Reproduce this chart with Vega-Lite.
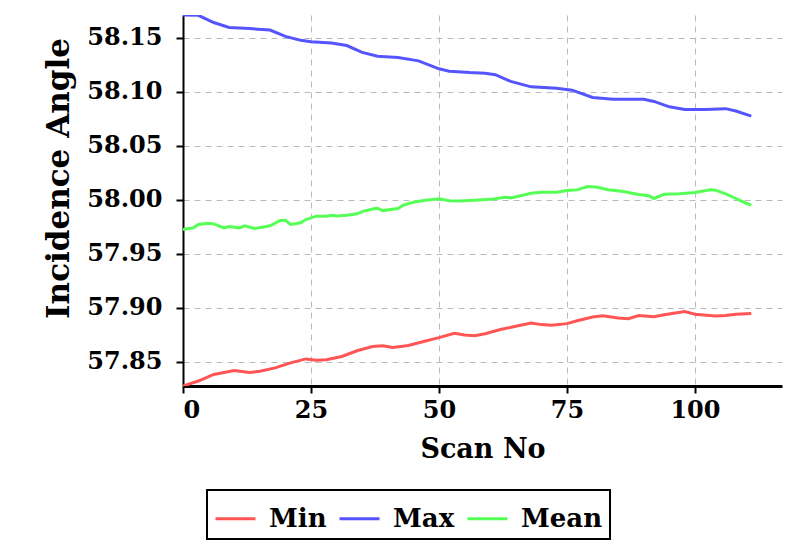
{
  "$schema": "https://vega.github.io/schema/vega-lite/v6.json",
  "width": 599,
  "height": 371,
  "autosize": {"type": "none"},
  "padding": {"left": 183, "top": 15, "right": 30, "bottom": 163},
  "background": "white",
  "datasets": {
    "Min": [
      {"scan":0,"angle":57.8274},{"scan":3,"angle":57.8320},{"scan":6,"angle":57.8381},{"scan":10,"angle":57.8418},
      {"scan":13,"angle":57.8400},{"scan":15,"angle":57.8411},{"scan":18,"angle":57.8442},{"scan":21,"angle":57.8488},
      {"scan":24,"angle":57.8525},{"scan":26,"angle":57.8512},{"scan":28,"angle":57.8518},{"scan":31,"angle":57.8548},
      {"scan":34,"angle":57.8601},{"scan":37,"angle":57.8640},{"scan":39,"angle":57.8646},{"scan":41,"angle":57.8631},
      {"scan":44,"angle":57.8649},{"scan":47,"angle":57.8686},{"scan":50,"angle":57.8722},{"scan":53,"angle":57.8762},
      {"scan":55,"angle":57.8747},{"scan":57,"angle":57.8740},{"scan":59,"angle":57.8758},{"scan":62,"angle":57.8797},
      {"scan":65,"angle":57.8827},{"scan":68,"angle":57.8858},{"scan":70,"angle":57.8843},{"scan":72,"angle":57.8837},
      {"scan":75,"angle":57.8852},{"scan":77,"angle":57.8879},{"scan":80,"angle":57.8913},{"scan":82,"angle":57.8925},
      {"scan":85,"angle":57.8904},{"scan":87,"angle":57.8898},{"scan":89,"angle":57.8928},{"scan":92,"angle":57.8916},
      {"scan":94,"angle":57.8934},{"scan":98,"angle":57.8964},{"scan":100,"angle":57.8940},{"scan":104,"angle":57.8922},
      {"scan":106,"angle":57.8928},{"scan":108,"angle":57.8940},{"scan":111,"angle":57.8946}
    ],
    "Max": [
      {"scan":0,"angle":58.1713},{"scan":3,"angle":58.1710},{"scan":6,"angle":58.1643},{"scan":9,"angle":58.1597},
      {"scan":13,"angle":58.1587},{"scan":17,"angle":58.1574},{"scan":20,"angle":58.1515},{"scan":23,"angle":58.1478},
      {"scan":25,"angle":58.1465},{"scan":29,"angle":58.1453},{"scan":32,"angle":58.1430},{"scan":35,"angle":58.1366},
      {"scan":38,"angle":58.1330},{"scan":42,"angle":58.1318},{"scan":46,"angle":58.1288},{"scan":50,"angle":58.1214},
      {"scan":52,"angle":58.1191},{"scan":56,"angle":58.1179},{"scan":59,"angle":58.1174},{"scan":61,"angle":58.1160},
      {"scan":64,"angle":58.1098},{"scan":68,"angle":58.1047},{"scan":73,"angle":58.1033},{"scan":76,"angle":58.1016},
      {"scan":80,"angle":58.0948},{"scan":84,"angle":58.0931},{"scan":90,"angle":58.0931},{"scan":92,"angle":58.0912},
      {"scan":95,"angle":58.0862},{"scan":98,"angle":58.0838},{"scan":102,"angle":58.0838},{"scan":106,"angle":58.0845},
      {"scan":108,"angle":58.0823},{"scan":111,"angle":58.0776}
    ],
    "Mean": [
      {"scan":0,"angle":57.9724},{"scan":2,"angle":57.9740},{"scan":3,"angle":57.9771},{"scan":5,"angle":57.9783},
      {"scan":6,"angle":57.9777},{"scan":8,"angle":57.9740},{"scan":9,"angle":57.9752},{"scan":11,"angle":57.9740},
      {"scan":12,"angle":57.9759},{"scan":14,"angle":57.9734},{"scan":16,"angle":57.9750},{"scan":17,"angle":57.9759},
      {"scan":19,"angle":57.9808},{"scan":20,"angle":57.9811},{"scan":21,"angle":57.9771},{"scan":23,"angle":57.9787},
      {"scan":24,"angle":57.9817},{"scan":26,"angle":57.9848},{"scan":28,"angle":57.9848},{"scan":29,"angle":57.9857},
      {"scan":30,"angle":57.9851},{"scan":32,"angle":57.9857},{"scan":34,"angle":57.9870},{"scan":35,"angle":57.9890},
      {"scan":37,"angle":57.9915},{"scan":38,"angle":57.9922},{"scan":39,"angle":57.9900},{"scan":42,"angle":57.9919},
      {"scan":43,"angle":57.9950},{"scan":45,"angle":57.9978},{"scan":47,"angle":57.9994},{"scan":50,"angle":58.0009},
      {"scan":52,"angle":57.9991},{"scan":54,"angle":57.9988},{"scan":57,"angle":57.9996},{"scan":60,"angle":58.0004},
      {"scan":63,"angle":58.0024},{"scan":64,"angle":58.0018},{"scan":68,"angle":58.0061},{"scan":70,"angle":58.0071},
      {"scan":73,"angle":58.0071},{"scan":75,"angle":58.0087},{"scan":77,"angle":58.0092},{"scan":79,"angle":58.0123},
      {"scan":81,"angle":58.0117},{"scan":83,"angle":58.0094},{"scan":86,"angle":58.0077},{"scan":89,"angle":58.0049},
      {"scan":91,"angle":58.0037},{"scan":92,"angle":58.0012},{"scan":94,"angle":58.0052},{"scan":97,"angle":58.0055},
      {"scan":100,"angle":58.0068},{"scan":103,"angle":58.0092},{"scan":104,"angle":58.0089},{"scan":106,"angle":58.0055},
      {"scan":108,"angle":58.0012},{"scan":110,"angle":57.9968},{"scan":111,"angle":57.9950}
    ]
  },
  "layer": [
    {
      "data": {"name": "Min"},
      "transform": [{"calculate": "'Min'", "as": "series"}],
      "mark": {"type": "line", "strokeWidth": 3, "clip": true},
      "encoding": {
        "x": {"field": "scan", "type": "quantitative"},
        "y": {"field": "angle", "type": "quantitative"},
        "color": {"field": "series", "type": "nominal"}
      }
    },
    {
      "data": {"name": "Max"},
      "transform": [{"calculate": "'Max'", "as": "series"}],
      "mark": {"type": "line", "strokeWidth": 3, "clip": true},
      "encoding": {
        "x": {"field": "scan", "type": "quantitative"},
        "y": {"field": "angle", "type": "quantitative"},
        "color": {"field": "series", "type": "nominal"}
      }
    },
    {
      "data": {"name": "Mean"},
      "transform": [{"calculate": "'Mean'", "as": "series"}],
      "mark": {"type": "line", "strokeWidth": 3, "clip": true},
      "encoding": {
        "x": {
          "field": "scan", "type": "quantitative",
          "scale": {"domain": [0, 117], "nice": false, "zero": false},
          "axis": {
            "title": "Scan No", "values": [0, 25, 50, 75, 100],
            "domainWidth": 3, "titlePadding": 14, "titleFontSize": 27, "labelPadding": 5
          }
        },
        "y": {
          "field": "angle", "type": "quantitative",
          "scale": {"domain": [57.8274, 58.1713], "nice": false, "zero": false},
          "axis": {
            "title": "Incidence Angle",
            "values": [57.85, 57.9, 57.95, 58.0, 58.05, 58.1, 58.15],
            "format": ".2f", "domainWidth": 2, "titlePadding": 11, "titleFontSize": 31, "labelPadding": 14,
            "titleY": 163
          }
        },
        "color": {
          "field": "series", "type": "nominal",
          "scale": {"domain": ["Min", "Max", "Mean"], "range": ["#ff5555", "#5555ff", "#55ff55"]},
          "legend": {
            "title": null, "orient": "none", "legendX": 24, "legendY": 475,
            "direction": "horizontal"
          }
        }
      }
    }
  ],
  "config": {
    "view": {"stroke": null},
    "axis": {
      "labelFont": "DejaVu Serif", "labelFontWeight": "bold", "labelFontSize": 24, "labelColor": "black",
      "titleFont": "DejaVu Serif", "titleFontWeight": "bold", "titleColor": "black",
      "domainColor": "black", "tickColor": "black", "tickWidth": 2, "tickSize": 7,
      "grid": true, "gridColor": "#bbbbbb", "gridDash": [6, 5], "gridWidth": 1
    },
    "legend": {
      "labelFont": "DejaVu Serif", "labelFontWeight": "bold", "labelFontSize": 26, "labelColor": "black",
      "symbolType": "stroke", "symbolSize": 1600, "symbolStrokeWidth": 3,
      "strokeColor": "black", "strokeWidth": 2, "padding": 7,
      "columnPadding": 6, "labelOffset": 12
    }
  }
}
